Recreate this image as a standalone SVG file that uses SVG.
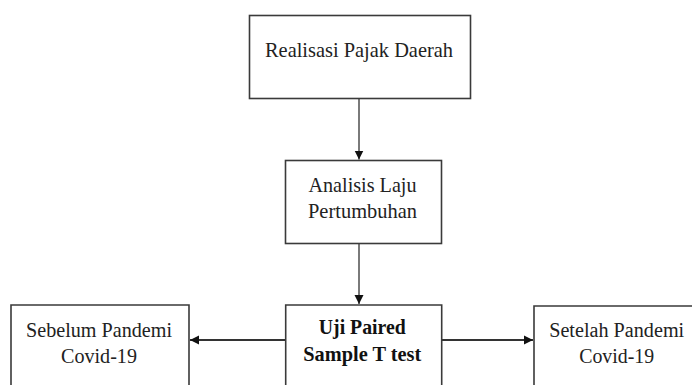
<svg xmlns="http://www.w3.org/2000/svg" width="692" height="385" viewBox="0 0 692 385">
  <defs>
    <marker id="arrow" markerWidth="10" markerHeight="10" refX="9" refY="5" orient="auto" markerUnits="userSpaceOnUse">
      <path d="M0,0.5 L9,5 L0,9.5 Z" fill="#111"/>
    </marker>
    <style>
      .box { fill: #fff; stroke: #3a3a3a; stroke-width: 1.6; }
      .lbl { font-family: "Liberation Serif", "Times New Roman", serif; font-size: 22px; fill: #222; text-anchor: middle; }
      .sm { font-size: 20.5px; }
      .bold { font-weight: bold; fill: #111; }
      .conn { fill: none; stroke-width: 2; marker-end: url(#arrow); }
      .v { stroke: #7a7a7a; }
      .h { stroke: #333; }
    </style>
  </defs>
  <rect width="692" height="385" fill="#fff"/>

  <g id="connectors">
    <line class="conn v" x1="359" y1="98" x2="359" y2="159.5"/>
    <line class="conn v" x1="359" y1="243" x2="359" y2="304"/>
    <line class="conn h" x1="285.7" y1="340" x2="190" y2="340"/>
    <line class="conn h" x1="441.7" y1="340" x2="533" y2="340"/>
  </g>

  <g id="realisasi">
    <rect class="box" x="249.5" y="15.5" width="221" height="83"/>
    <text class="lbl" x="359" y="57" textLength="188" lengthAdjust="spacingAndGlyphs">Realisasi Pajak Daerah</text>
  </g>

  <g id="analisis">
    <rect class="box" x="285.5" y="160.5" width="156" height="83"/>
    <text class="lbl" x="362.5" y="191.5" textLength="108" lengthAdjust="spacingAndGlyphs">Analisis Laju</text>
    <text class="lbl" x="362.5" y="217.5" textLength="109" lengthAdjust="spacingAndGlyphs">Pertumbuhan</text>
  </g>

  <g id="uji">
    <path class="box" d="M285.7,385 V305 H441.7 V385"/>
    <text class="lbl bold" x="362.3" y="334" textLength="87" lengthAdjust="spacingAndGlyphs">Uji Paired</text>
    <text class="lbl bold" x="362.3" y="360.5" textLength="118" lengthAdjust="spacingAndGlyphs">Sample T test</text>
  </g>

  <g id="sebelum">
    <path class="box" d="M11,385 V305 H189 V385"/>
    <text class="lbl" x="99" y="336.5" textLength="146" lengthAdjust="spacingAndGlyphs">Sebelum Pandemi</text>
    <text class="lbl" x="99" y="362.5" textLength="76" lengthAdjust="spacingAndGlyphs">Covid-19</text>
  </g>

  <g id="setelah">
    <path class="box" d="M534,385 V306 H692"/>
    <text class="lbl sm" x="616.7" y="336.5" textLength="135" lengthAdjust="spacingAndGlyphs">Setelah Pandemi</text>
    <text class="lbl" x="616.7" y="362.5" textLength="75" lengthAdjust="spacingAndGlyphs">Covid-19</text>
  </g>
</svg>
